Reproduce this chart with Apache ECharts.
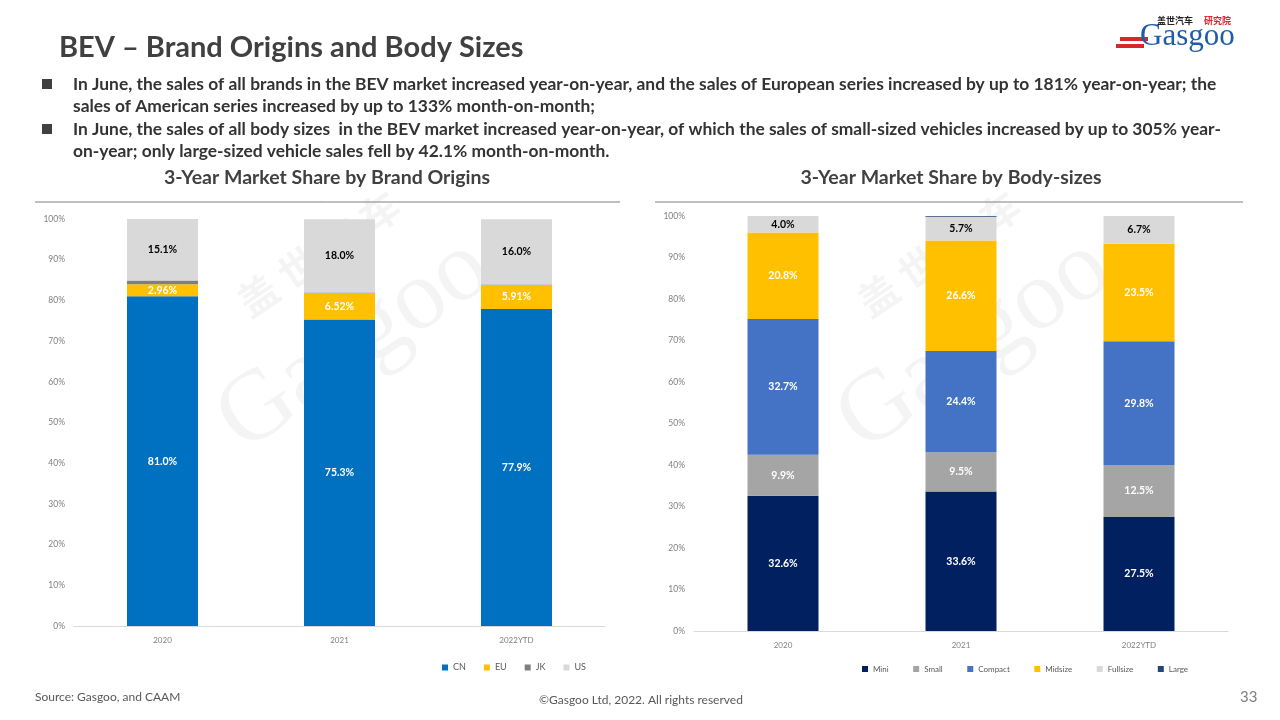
<!DOCTYPE html>
<html>
<head>
<meta charset="utf-8">
<script src="https://cdn.jsdelivr.net/npm/echarts@6/dist/echarts.min.js"></script>
<style>
html,body{margin:0;padding:0;background:#fff;}
#c{width:1280px;height:720px;}
</style>
</head>
<body>
<div id="c"></div>
<script>
// ---- Data ----
const years = ['2020', '2021', '2022YTD'];
const originNames = ['CN', 'EU', 'JK', 'US'];
const originCN = [81.0, 75.3, 77.9];
const originEU = [2.96, 6.52, 5.91];
const originJK = [0.94, 0.10, 0.10];
const originUS = [15.1, 18.0, 16.0];
const sizeNames = ['Mini', 'Small', 'Compact', 'Midsize', 'Fullsize', 'Large'];
const sizeMini = [32.6, 33.6, 27.5];
const sizeSmall = [9.9, 9.5, 12.5];
const sizeCompact = [32.7, 24.4, 29.8];
const sizeMidsize = [20.8, 26.6, 23.5];
const sizeFullsize = [4.0, 5.7, 6.7];
const sizeLarge = [0.0, 0.2, 0.0];
const yTicks = [0, 10, 20, 30, 40, 50, 60, 70, 80, 90, 100];

const FONT = 'Lato';
const chart = echarts.init(document.getElementById('c'));

function seriesDef(name, data, color, labelColor, decimals, gi, show) {
  return {
    name: name, type: 'bar', stack: 's' + gi, data: data,
    xAxisIndex: gi, yAxisIndex: gi, barWidth: 71,
    itemStyle: {color: color},
    label: {
      show: show, position: 'inside', color: labelColor, fontFamily: FONT,
      fontWeight: 'bold', fontSize: 10.5,
      formatter: p => p.value.toFixed(decimals) + '%'
    },
    emphasis: {disabled: true}
  };
}

const axisLabelStyle = {color: '#808080', fontSize: 8, fontFamily: FONT};

chart.setOption({
  animation: false,
  textStyle: {fontFamily: FONT},
  grid: [
    {left: 74, right: 675, top: 219, bottom: 94},
    {left: 694, right: 52, top: 216, bottom: 89}
  ],
  xAxis: [0, 1].map(i => ({
    type: 'category', data: years, gridIndex: i,
    axisLine: {lineStyle: {color: '#d9d9d9'}}, axisTick: {show: false},
    axisLabel: Object.assign({margin: 10}, axisLabelStyle)
  })),
  yAxis: [0, 1].map(i => ({
    type: 'value', gridIndex: i, min: yTicks[0], max: yTicks[yTicks.length - 1], interval: 10,
    axisLine: {show: false}, axisTick: {show: false}, splitLine: {show: false},
    axisLabel: Object.assign({formatter: '{value}%', margin: 9}, axisLabelStyle, {fontSize: 8.5})
  })),
  legend: [
    {data: originNames, left: 437, top: 658, itemWidth: 6, itemHeight: 6, itemGap: 18, icon: 'rect',
     textStyle: {fontSize: 9, color: '#595959', fontFamily: FONT}},
    {data: sizeNames, left: 857, top: 660, itemWidth: 6, itemHeight: 6, itemGap: 24.5, icon: 'rect',
     textStyle: {fontSize: 8, color: '#595959', fontFamily: FONT}}
  ],
  series: [
    seriesDef('CN', originCN, '#0070C0', '#fff', 1, 0, true),
    seriesDef('EU', originEU, '#FFC000', '#fff', 2, 0, true),
    seriesDef('JK', originJK, '#7F7F7F', '#fff', 1, 0, false),
    seriesDef('US', originUS, '#D9D9D9', '#000', 1, 0, true),
    seriesDef('Mini', sizeMini, '#002060', '#fff', 1, 1, true),
    seriesDef('Small', sizeSmall, '#A5A5A5', '#fff', 1, 1, true),
    seriesDef('Compact', sizeCompact, '#4472C4', '#fff', 1, 1, true),
    seriesDef('Midsize', sizeMidsize, '#FFC000', '#fff', 1, 1, true),
    seriesDef('Fullsize', sizeFullsize, '#D9D9D9', '#000', 1, 1, true),
    seriesDef('Large', sizeLarge, '#264478', '#fff', 1, 1, false)
  ],
  graphic: [
    // watermarks
    {type: 'text', x: 200, y: 390, rotation: 0.6, z: 0, silent: true,
     style: {text: 'Gasgoo', fontSize: 100, fontFamily: 'Liberation Serif', fill: 'rgba(0,0,0,0.045)'}},
    {type: 'text', x: 230, y: 290, rotation: 0.6, z: 0, silent: true,
     style: {text: '盖 世 汽 车', fontSize: 40, fontWeight: 'bold', fontFamily: 'Noto Sans CJK SC', fill: 'rgba(0,0,0,0.045)'}},
    {type: 'text', x: 820, y: 390, rotation: 0.6, z: 0, silent: true,
     style: {text: 'Gasgoo', fontSize: 100, fontFamily: 'Liberation Serif', fill: 'rgba(0,0,0,0.045)'}},
    {type: 'text', x: 850, y: 290, rotation: 0.6, z: 0, silent: true,
     style: {text: '盖 世 汽 车', fontSize: 40, fontWeight: 'bold', fontFamily: 'Noto Sans CJK SC', fill: 'rgba(0,0,0,0.045)'}},
    // title
    {type: 'text', left: 59, top: 33, style: {text: 'BEV – Brand Origins and Body Sizes', fontSize: 29, fontWeight: 'bold', fontFamily: FONT, fill: '#404040'}},
    // bullets
    {type: 'rect', shape: {x: 42, y: 79, width: 10, height: 10}, style: {fill: '#404040'}},
    {type: 'rect', shape: {x: 42, y: 124, width: 10, height: 10}, style: {fill: '#404040'}},
    {type: 'text', left: 73, top: 73, style: {
      text: 'In June, the sales of all brands in the BEV market increased year-on-year, and the sales of European series increased by up to 181% year-on-year; the\nsales of American series increased by up to 133% month-on-month;',
      fontSize: 17.4, lineHeight: 22, fontWeight: 'bold', fontFamily: FONT, fill: '#333333'}},
    {type: 'text', left: 73, top: 118, style: {
      text: 'In June, the sales of all body sizes  in the BEV market increased year-on-year, of which the sales of small-sized vehicles increased by up to 305% year-\non-year; only large-sized vehicle sales fell by 42.1% month-on-month.',
      fontSize: 17.4, lineHeight: 22, fontWeight: 'bold', fontFamily: FONT, fill: '#333333'}},
    // chart titles
    {type: 'text', x: 327, y: 178, style: {text: '3-Year Market Share by Brand Origins', fontSize: 19.5, fontWeight: 'bold', fontFamily: FONT, fill: '#404040', align: 'center', verticalAlign: 'middle'}},
    {type: 'text', x: 951, y: 178, style: {text: '3-Year Market Share by Body-sizes', fontSize: 19.5, fontWeight: 'bold', fontFamily: FONT, fill: '#404040', align: 'center', verticalAlign: 'middle'}},
    {type: 'line', shape: {x1: 35, y1: 202, x2: 620, y2: 202}, style: {stroke: '#7f7f7f', lineWidth: 1}},
    {type: 'line', shape: {x1: 655, y1: 202, x2: 1243, y2: 202}, style: {stroke: '#7f7f7f', lineWidth: 1}},
    // logo
    {type: 'rect', shape: {x: 1120, y: 37, width: 28, height: 4}, style: {fill: '#D7262C'}},
    {type: 'rect', shape: {x: 1116, y: 44, width: 28, height: 4}, style: {fill: '#D7262C'}},
    {type: 'text', left: 1140, top: 21, style: {text: 'Gasgoo', fontSize: 31, fontFamily: 'Liberation Serif', fill: '#1F5DA8'}},
    {type: 'text', left: 1157, top: 16, style: {text: '盖世汽车', fontSize: 9, fontWeight: 'bold', fontFamily: 'Noto Sans CJK SC', fill: '#222'}},
    {type: 'text', left: 1204, top: 16, style: {text: '研究院', fontSize: 9, fontWeight: 'bold', fontFamily: 'Noto Sans CJK SC', fill: '#D7262C'}},
    // footer
    {type: 'text', left: 35, top: 691, style: {text: 'Source: Gasgoo, and CAAM', fontSize: 12, fontFamily: FONT, fill: '#595959'}},
    {type: 'text', x: 641, y: 700, style: {text: '©Gasgoo Ltd, 2022. All rights reserved', fontSize: 12, fontFamily: FONT, fill: '#595959', align: 'center', verticalAlign: 'middle'}},
    {type: 'text', left: 1240, top: 690, style: {text: '33', fontSize: 15, fontFamily: FONT, fill: '#808080'}}
  ]
});
</script>
</body>
</html>
